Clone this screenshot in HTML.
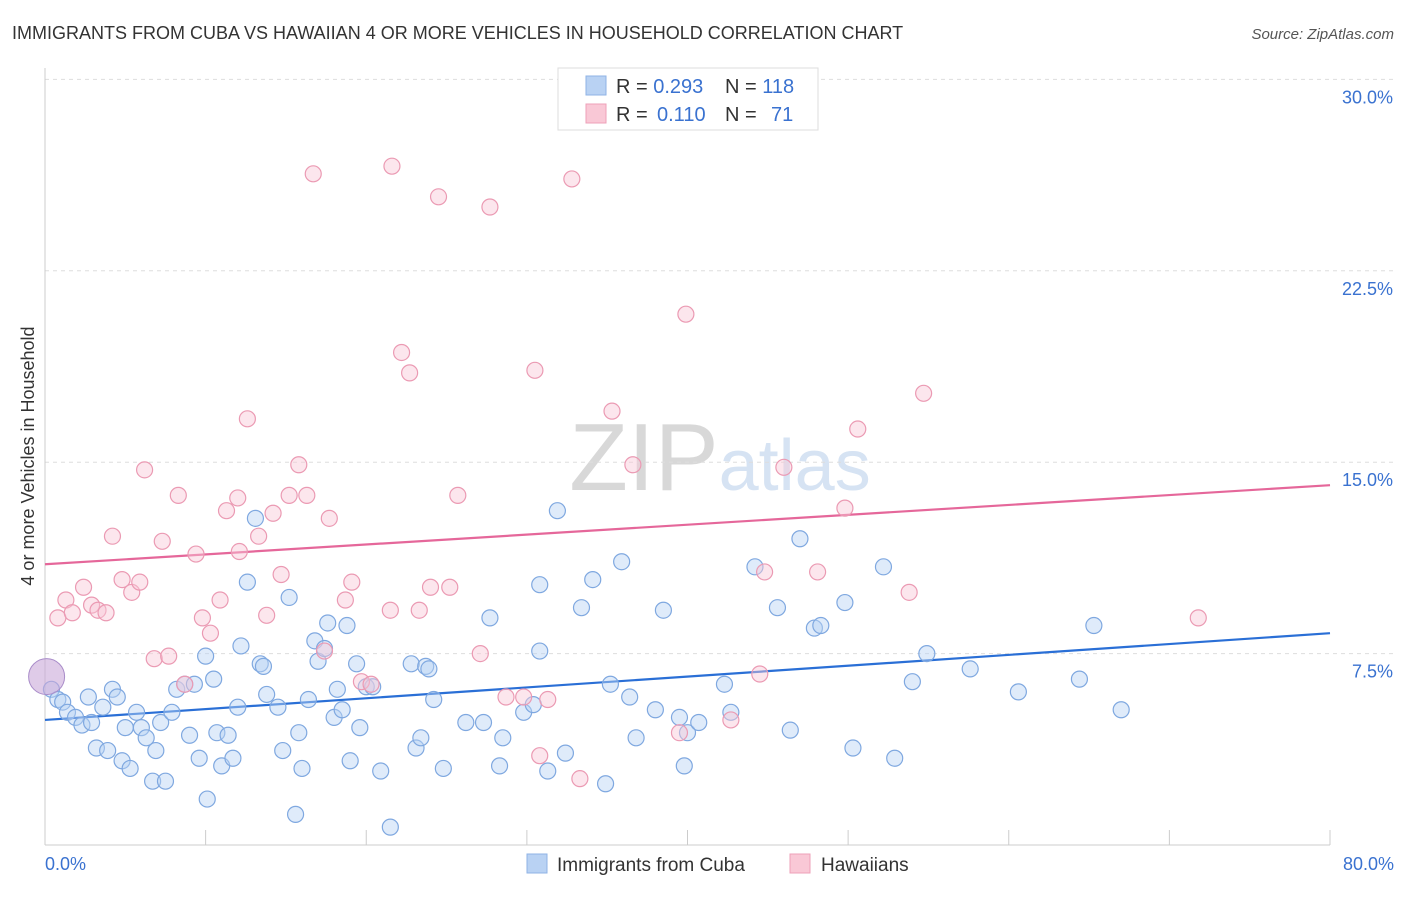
<!DOCTYPE html>
<html><head><meta charset="utf-8"><style>
body{margin:0;background:#fff;font-family:"Liberation Sans",sans-serif;}
svg text{font-family:"Liberation Sans",sans-serif;}
</style></head><body>
<svg id="chart" width="1406" height="892" xmlns="http://www.w3.org/2000/svg">
<text x="12" y="39" font-size="18" fill="#333">IMMIGRANTS FROM CUBA VS HAWAIIAN 4 OR MORE VEHICLES IN HOUSEHOLD CORRELATION CHART</text>
<text x="1394" y="39" font-size="15" fill="#555" font-style="italic" text-anchor="end">Source: ZipAtlas.com</text>
<text x="720" y="490" font-size="96" text-anchor="middle" fill="#e8e8e8" font-family="Liberation Serif"><tspan fill="#d8d8d8">ZIP</tspan><tspan fill="#d6e3f3" font-family="Liberation Sans" font-size="72">atlas</tspan></text>
<text transform="translate(34,456) rotate(-90)" font-size="18" fill="#333" text-anchor="middle">4 or more Vehicles in Household</text>
<g id="grid"></g><g id="axes"></g><g id="trend"></g><g id="pts"></g>
<g>
<rect x="558" y="68" width="260" height="62" fill="#fff" stroke="#ddd"/>
<rect x="586" y="76" width="20" height="19" fill="#b9d2f3" stroke="#8fb3e6"/>
<rect x="586" y="104" width="20" height="19" fill="#f9c8d6" stroke="#eea0b8"/>
<text x="616" y="93" font-size="20" fill="#333">R = <tspan fill="#3a72d0">0.293</tspan><tspan x="725">N = </tspan><tspan fill="#3a72d0">118</tspan></text>
<text x="616" y="121" font-size="20" fill="#333">R = <tspan fill="#3a72d0" x="657">0.110</tspan><tspan x="725">N = </tspan><tspan fill="#3a72d0" x="771">71</tspan></text>
</g>
<g>
<rect x="527" y="854" width="20" height="19" fill="#b9d2f3" stroke="#8fb3e6"/>
<text x="557" y="871" font-size="19" fill="#333">Immigrants from Cuba</text>
<rect x="790" y="854" width="20" height="19" fill="#f9c8d6" stroke="#eea0b8"/>
<text x="821" y="871" font-size="19" fill="#333">Hawaiians</text>
</g>
</svg>
<script>
const blueX=[0.4,0.8,1.1,1.4,1.9,2.3,2.7,2.9,3.2,3.6,3.9,4.2,4.5,4.8,5.0,5.3,5.7,6.0,6.3,6.7,6.9,7.2,7.5,7.9,8.2,8.7,9.0,9.3,9.6,10.0,10.1,10.5,10.7,11.0,11.4,11.7,12.0,12.2,12.6,13.1,13.4,13.6,13.8,14.5,14.8,15.2,15.6,15.8,16.0,16.4,16.8,17.0,17.4,17.6,18.0,18.2,18.5,18.8,19.0,19.4,19.6,20.0,20.4,20.9,21.5,22.8,23.1,23.4,23.7,23.9,24.2,24.8,26.2,27.3,27.7,28.3,28.5,29.8,30.4,30.8,30.8,31.3,31.9,32.4,33.4,34.1,34.9,35.2,35.9,36.4,36.8,38.0,38.5,39.5,39.8,40.0,40.7,42.3,42.7,44.2,45.6,46.4,47.0,47.9,48.3,49.8,50.3,52.2,52.9,54.0,54.9,57.6,60.6,64.4,65.3,67.0];
const blueY=[6.1,5.7,5.6,5.2,5.0,4.7,5.8,4.8,3.8,5.4,3.7,6.1,5.8,3.3,4.6,3.0,5.2,4.6,4.2,2.5,3.7,4.8,2.5,5.2,6.1,6.3,4.3,6.3,3.4,7.4,1.8,6.5,4.4,3.1,4.3,3.4,5.4,7.8,10.3,12.8,7.1,7.0,5.9,5.4,3.7,9.7,1.2,4.4,3.0,5.7,8.0,7.2,7.7,8.7,5.0,6.1,5.3,8.6,3.3,7.1,4.6,6.2,6.2,2.9,0.7,7.1,3.8,4.2,7.0,6.9,5.7,3.0,4.8,4.8,8.9,3.1,4.2,5.2,5.5,10.2,7.6,2.9,13.1,3.6,9.3,10.4,2.4,6.3,11.1,5.8,4.2,5.3,9.2,5.0,3.1,4.4,4.8,6.3,5.2,10.9,9.3,4.5,12.0,8.5,8.6,9.5,3.8,10.9,3.4,6.4,7.5,6.9,6.0,6.5,8.6,5.3];
const pinkX=[0.8,1.3,1.7,2.4,2.9,3.3,3.8,4.2,4.8,5.4,5.9,6.2,6.8,7.3,7.7,8.3,8.7,9.4,9.8,10.3,10.9,11.3,12.0,12.1,12.6,13.3,13.8,14.2,14.7,15.2,15.8,16.3,16.7,17.4,17.7,18.7,19.1,19.7,20.3,21.5,21.6,22.2,22.7,23.3,24.0,24.5,25.2,25.7,27.1,27.7,28.7,29.8,30.5,30.8,31.3,32.8,33.3,35.3,36.6,39.5,39.9,42.7,44.5,44.8,46.0,48.1,49.8,50.6,53.8,54.7,71.8];
const pinkY=[8.9,9.6,9.1,10.1,9.4,9.2,9.1,12.1,10.4,9.9,10.3,14.7,7.3,11.9,7.4,13.7,6.3,11.4,8.9,8.3,9.6,13.1,13.6,11.5,16.7,12.1,9.0,13.0,10.6,13.7,14.9,13.7,26.3,7.6,12.8,9.6,10.3,6.4,6.3,9.2,26.6,19.3,18.5,9.2,10.1,25.4,10.1,13.7,7.5,25.0,5.8,5.8,18.6,3.5,5.7,26.1,2.6,17.0,14.9,4.4,20.8,4.9,6.7,10.7,14.8,10.7,13.2,16.3,9.9,17.7,8.9];
const blueTrend=[4.9,8.3];
const pinkTrend=[11.0,14.1];
const yTicks=[7.5,15.0,22.5,30.0];
const xTicks=[0,10,20,30,40,50,60,70,80];
const NS='http://www.w3.org/2000/svg';
const X=v=>45+v/80*1285, Y=v=>845-v*25.52;
function mk(p,t,a){const e=document.createElementNS(NS,t);for(const k in a)e.setAttribute(k,a[k]);p.appendChild(e);return e;}
const grid=document.getElementById('grid'),axes=document.getElementById('axes'),tr=document.getElementById('trend'),pts=document.getElementById('pts');
yTicks.forEach(v=>{
 const l=mk(grid,'line',{x1:45,x2:1394,y1:Y(v),y2:Y(v),stroke:'#ddd','stroke-dasharray':'4,4'});
 
 
 const t=mk(grid,'text',{x:1393,y:Y(v)+24,'font-size':18,fill:'#3a72d0','text-anchor':'end'});
 t.textContent=v.toFixed(1)+'%';
 
 
});
mk(axes,'line',{x1:45,x2:45,y1:68,y2:845,stroke:'#ccc'});
mk(axes,'line',{x1:45,x2:1330,y1:845,y2:845,stroke:'#ccc'});
xTicks.forEach(v=>{
 const l=mk(axes,'line',{x1:X(v),x2:X(v),y1:830,y2:845,stroke:'#ccc'});
 
 
});
[[0,'start',45],[80,'end',1394]].forEach(([v,a,x])=>{
 const t=mk(axes,'text',{x:x,y:870,'font-size':18,fill:'#3a72d0','text-anchor':a});
 t.textContent=v.toFixed(1)+'%';
 
 
});
function dots(xs,ys,fill,stroke,name){
 xs.forEach((x,i)=>{
  const c=mk(pts,'circle',{cx:X(x),cy:Y(ys[i]),r:8,fill:fill,'fill-opacity':0.45,stroke:stroke,'stroke-width':1.2});
  
  
 });
}
dots(blueX,blueY,'#b9d2f3','#7fa8e0','cuba-point');
dots(pinkX,pinkY,'#f9c8d6','#eb9ab3','hawaiian-point');
const big=mk(pts,'circle',{cx:X(0.1),cy:Y(6.6),r:18,fill:'#c9a9d9','fill-opacity':0.6,stroke:'#a98cc9'});


const bl=mk(tr,'line',{x1:X(0),x2:X(80),y1:Y(blueTrend[0]),y2:Y(blueTrend[1]),stroke:'#2a6fd6','stroke-width':2.2});


const pl=mk(tr,'line',{x1:X(0),x2:X(80),y1:Y(pinkTrend[0]),y2:Y(pinkTrend[1]),stroke:'#e5679a','stroke-width':2.2});


</script>
</body></html>
